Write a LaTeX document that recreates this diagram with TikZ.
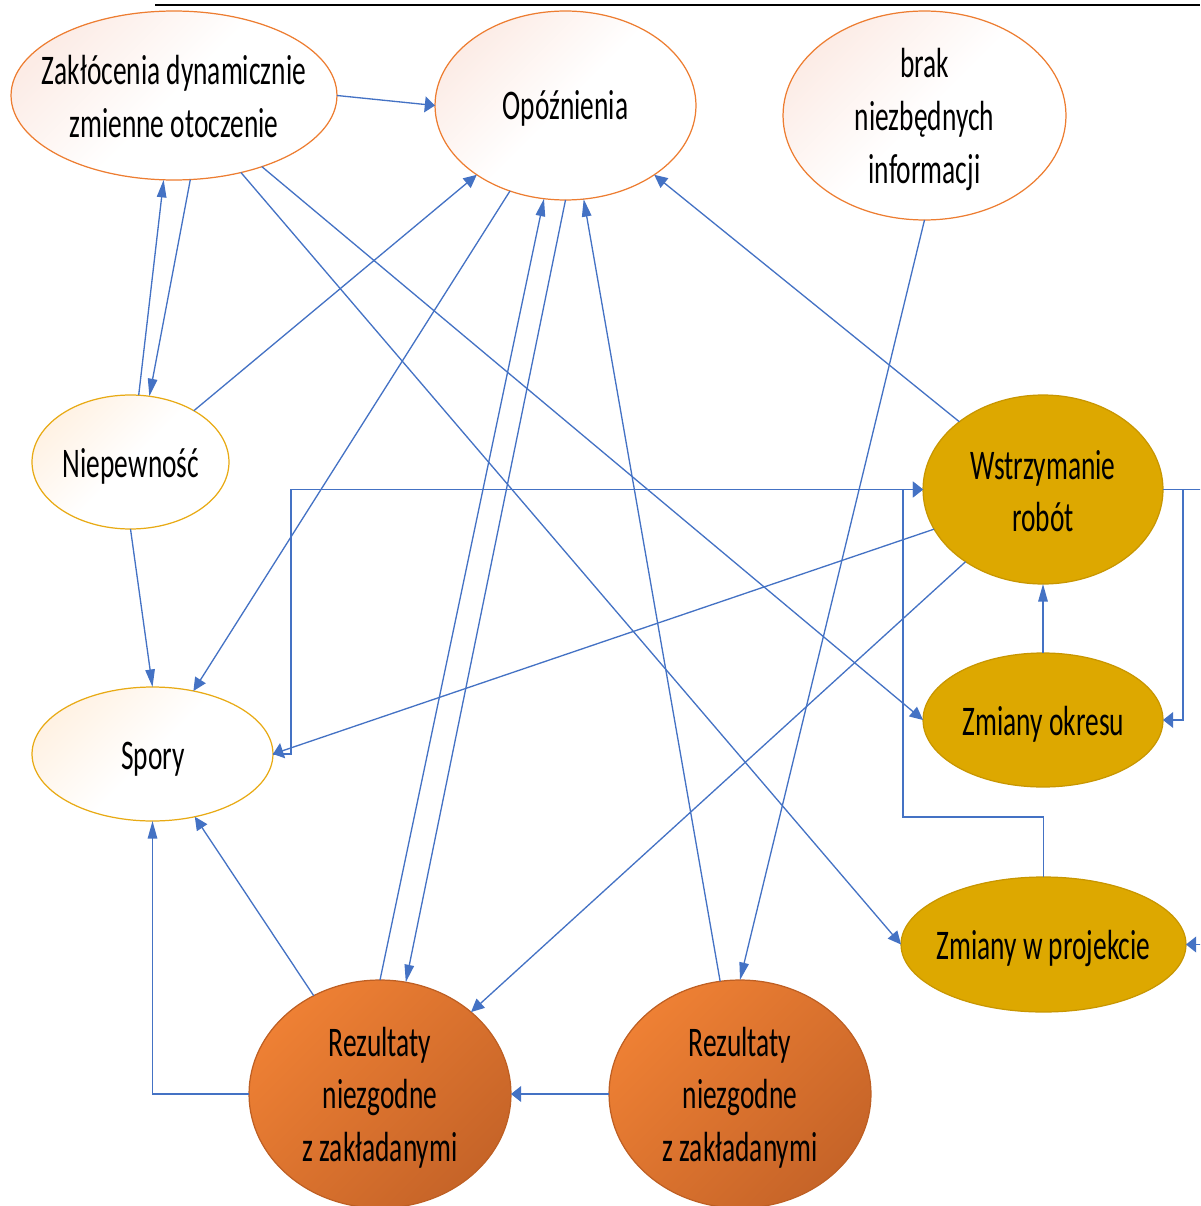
\documentclass[tikz,border=0pt]{standalone}
\usepackage{fontspec}
\setmainfont{Carlito}
\usepackage{graphicx}
\usetikzlibrary{shapes.geometric,arrows.meta}

\definecolor{link}{RGB}{68,114,196}
\definecolor{ringO}{RGB}{237,125,49}
\definecolor{peachO}{RGB}{252,236,230}
\definecolor{ringY}{RGB}{232,170,20}
\definecolor{peachY}{RGB}{255,242,228}
\definecolor{goldfill}{RGB}{221,168,0}
\definecolor{goldring}{RGB}{200,150,0}
\definecolor{orangeA}{RGB}{238,128,52}
\definecolor{orangeB}{RGB}{198,100,40}
\definecolor{orangering}{RGB}{190,95,35}

% condensed, centred label text; the reference point is the first baseline
\newcommand\lbl[1]{\scalebox{0.65}[1]{\begin{tabular}[t]{@{}c@{}}#1\end{tabular}}}

\begin{document}
\begin{tikzpicture}[x=0.02cm,y=-0.02cm,
  oval/.style={ellipse, inner sep=0pt, outer sep=0pt, line width=0.7pt},
  lightO/.style={oval, draw=ringO, top color=peachO, bottom color=white, middle color=white, shading angle=45},
  lightY/.style={oval, draw=ringY, top color=peachY, bottom color=white, middle color=white, shading angle=45},
  gold/.style={oval, draw=goldring, fill=goldfill},
  deep/.style={oval, draw=orangering, top color=orangeA, bottom color=orangeB, shading angle=45},
  txt/.style={anchor=base, inner sep=0pt, outer sep=0pt, font=\fontsize{24}{30}\selectfont},
  conn/.style={draw=link, line width=0.75pt, -{Triangle[length=7.5pt,width=7pt]}},
  hconn/.style={conn, -{Triangle[length=5.8pt,width=9pt]}},
  vconn/.style={conn, -{Triangle[length=10pt,width=5.4pt]}},
]
\path[use as bounding box, clip] (0,0) rectangle (1200,1206);

% rule across the top
\draw[line width=1.2pt] (155,5) -- (1200,5);

% ---- nodes ----
\node[lightO, minimum width=6.52cm, minimum height=3.38cm] (zak) at (174,95.5) {};
\node[txt] (zak-t) at (174,85) {\lbl{Zakłócenia dynamicznie\\zmienne otoczenie}};

\node[lightO, minimum width=5.22cm, minimum height=3.78cm] (opo) at (565.5,105.5) {};
\node[txt] (opo-t) at (565.5,120) {\lbl{Opóźnienia}};

\node[lightO, minimum width=5.66cm, minimum height=4.18cm] (brak) at (924.5,115.5) {};
\node[txt] (brak-t) at (924.5,78) {\lbl{brak\\niezbędnych\\informacji}};

\node[lightY, minimum width=3.94cm, minimum height=2.68cm] (niep) at (130.5,462) {};
\node[txt] (niep-t) at (131,477) {\lbl{Niepewność}};

\node[lightY, minimum width=4.82cm, minimum height=2.68cm] (spory) at (152.5,754) {};
\node[txt] (spory-t) at (153,769) {\lbl{Spory}};

\node[gold, minimum width=4.8cm, minimum height=3.78cm] (wstrz) at (1043,489.5) {};
\node[txt] (wstrz-t) at (1043,479) {\lbl{Wstrzymanie\\robót}};

\node[gold, minimum width=4.8cm, minimum height=2.68cm] (zokr) at (1043,720) {};
\node[txt] (zokr-t) at (1043.5,735) {\lbl{Zmiany okresu}};

\node[gold, minimum width=5.7cm, minimum height=2.7cm] (zproj) at (1043.5,944.5) {};
\node[txt] (zproj-t) at (1043.5,959) {\lbl{Zmiany w projekcie}};

\node[deep, minimum width=5.24cm, minimum height=4.56cm] (rez1) at (380,1094) {};
\node[txt] (rez1-t) at (380,1056) {\lbl{Rezultaty\\niezgodne\\z zakładanymi}};

\node[deep, minimum width=5.24cm, minimum height=4.56cm] (rez2) at (740,1094) {};
\node[txt] (rez2-t) at (740,1056) {\lbl{Rezultaty\\niezgodne\\z zakładanymi}};

% ---- connectors ----
\draw[hconn] (zak.east) -- (opo.west);
\draw[vconn] (niep.83.5) -- (zak.-97);
\draw[vconn] (zak.-79) -- (niep.74);
\draw[conn] (niep.39) -- (opo.-142);
\draw[conn] (opo.-123) -- (spory.57);
\draw[conn] (zak.-49) -- (zproj.west);
\draw[conn] (zak.-39) -- (zokr.west);
\draw[vconn] (rez1.north) -- (opo.-103.5);
\draw[vconn] (opo.south) -- (rez1.77);
\draw[vconn] (rez2.100) -- (opo.-79);
\draw[vconn] (brak.south) -- (rez2.north);
\draw[conn] (wstrz.141) -- (opo.-38);
\draw[hconn] (wstrz.-160) -- (spory.east);
\draw[hconn] (spory.east) -- ++(18,0) |- (wstrz.west);
\draw[hconn] (zproj.north) |- (903,817) |- (wstrz.west);
\draw[vconn] (zokr.north) -- (wstrz.south);
\draw[conn] (wstrz.-137) -- (rez1.42);
\draw[conn] (rez1.124) -- (spory.-56);
\draw[vconn] (rez1.west) -| (spory.south);
\draw[hconn] (rez2.west) -- (rez1.east);
\draw[vconn] (niep.south) -- (spory.north);
\draw[hconn] (wstrz.east) -- ++(20,0) |- (zokr.east);
\draw[hconn] (wstrz.east) -- ++(60,0) |- (zproj.east);
\end{tikzpicture}
\end{document}
